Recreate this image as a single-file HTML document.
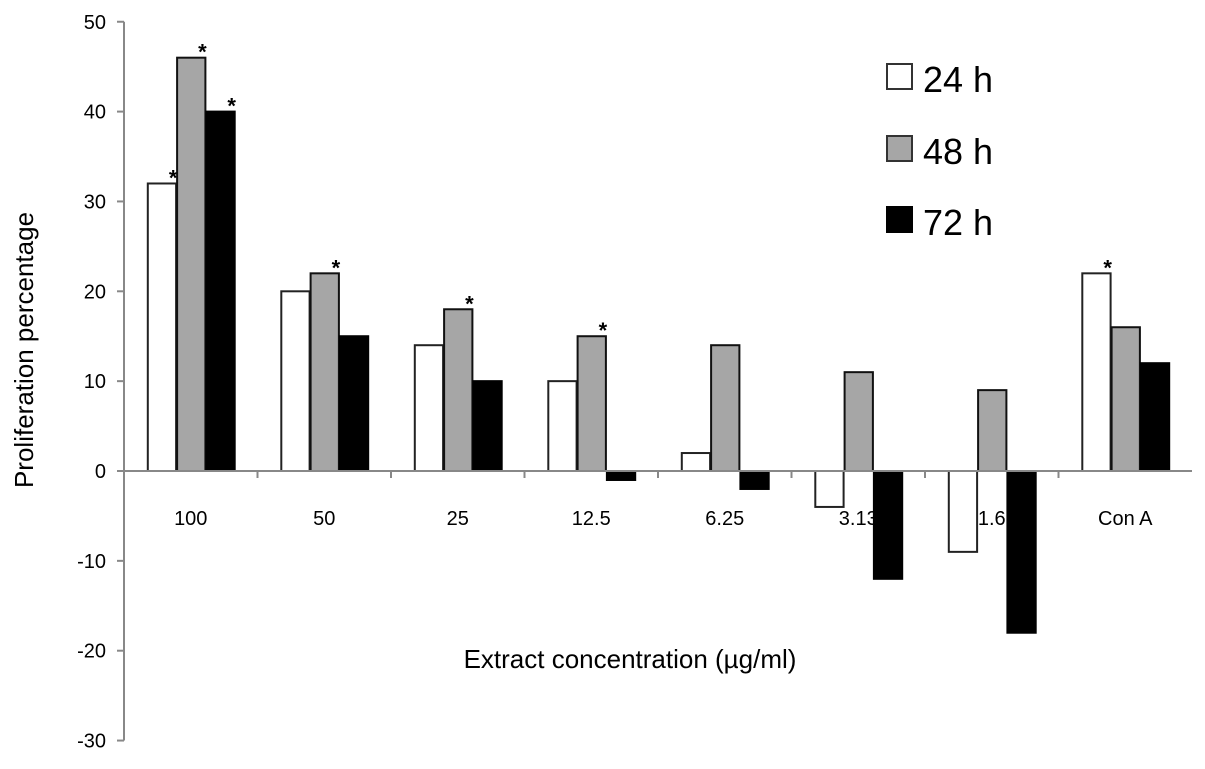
<!DOCTYPE html>
<html><head><meta charset="utf-8"><style>
body{margin:0;background:#fff;}
svg{display:block;font-family:"Liberation Sans",sans-serif;}
</style></head><body>
<svg id="chart" width="1205" height="769">
<g id="plot"></g>
<text x="33" y="350" font-size="26" text-anchor="middle" transform="rotate(-90 33 350)">Proliferation percentage</text>
<text x="630" y="668" font-size="26" text-anchor="middle">Extract concentration  (µg/ml)</text>
<g>
<rect x="887" y="64" width="25" height="25" fill="#fff" stroke="#333" stroke-width="2"/>
<text x="923" y="92" font-size="36">24 h</text>
<rect x="887" y="136" width="25" height="25" fill="#a6a6a6" stroke="#333" stroke-width="2"/>
<text x="923" y="164" font-size="36">48 h</text>
<rect x="887" y="207" width="25" height="25" fill="#000" stroke="#000" stroke-width="2"/>
<text x="923" y="235" font-size="36">72 h</text>
</g>
</svg>
<script>
const categories=["100","50","25","12.5","6.25","3.13","1.6","Con A"];
const h24=[32,20,14,10,2,-4,-9,22];
const h48=[46,22,18,15,14,11,9,16];
const h72=[40,15,10,-1,-2,-12,-18,12];
const star24=[1,0,0,0,0,0,0,1];
const star48=[1,1,1,1,0,0,0,0];
const star72=[1,0,0,0,0,0,0,0];
const yTicks=[50,40,30,20,10,0,-10,-20,-30];
const NS="http://www.w3.org/2000/svg";
const g=document.getElementById('plot');
const x0=124,gw=133.5,bw=29.3;
function y(v){return 471-v*8.985;}
function gx(i){return x0+i*gw;}
function mk(t,a){const e=document.createElementNS(NS,t);for(const k in a)e.setAttribute(k,a[k]);g.appendChild(e);return e;}
let e;
e=mk('line',{x1:x0,y1:y(50),x2:x0,y2:y(-30),stroke:'#888','stroke-width':2});


yTicks.forEach(t=>{
 const l=mk('line',{x1:x0-7,y1:y(t),x2:x0,y2:y(t),stroke:'#888','stroke-width':2});
 
 
 const tx=mk('text',{x:x0-18,y:y(t)+7,'font-size':20,'text-anchor':'end'});
 tx.textContent=t;
 
 
});
const series=[[h24,'#fff','#222',star24,'bar-24h'],[h48,'#a6a6a6','#111',star48,'bar-48h'],[h72,'#000','#000',star72,'bar-72h']];
categories.forEach((c,i)=>{
 const cx=gx(i)+gw/2;
 series.forEach((s,j)=>{
  const v=s[0][i];const bx=cx-1.5*bw+j*bw;
  const r=mk('rect',{x:bx+1,y:Math.min(y(v),y(0)),width:bw-1,height:Math.abs(y(v)-y(0)),fill:s[1],stroke:s[2],'stroke-width':2});
  
  
  if(s[3][i]){
   const st=mk('text',{x:bx+bw-3,y:y(v)+2,'font-size':22,'font-weight':'bold','text-anchor':'middle'});
   st.textContent='*';
   
   
  }
 });
 const lb=mk('text',{x:cx,y:525,'font-size':20,'text-anchor':'middle'});
 lb.textContent=c;
 
 
 if(i>0){const tk=mk('line',{x1:gx(i),y1:y(0),x2:gx(i),y2:y(0)+7,stroke:'#888','stroke-width':2});
 
 }
});
e=mk('line',{x1:x0-7,y1:y(0),x2:gx(8),y2:y(0),stroke:'#888','stroke-width':2});


</script>
</body></html>
